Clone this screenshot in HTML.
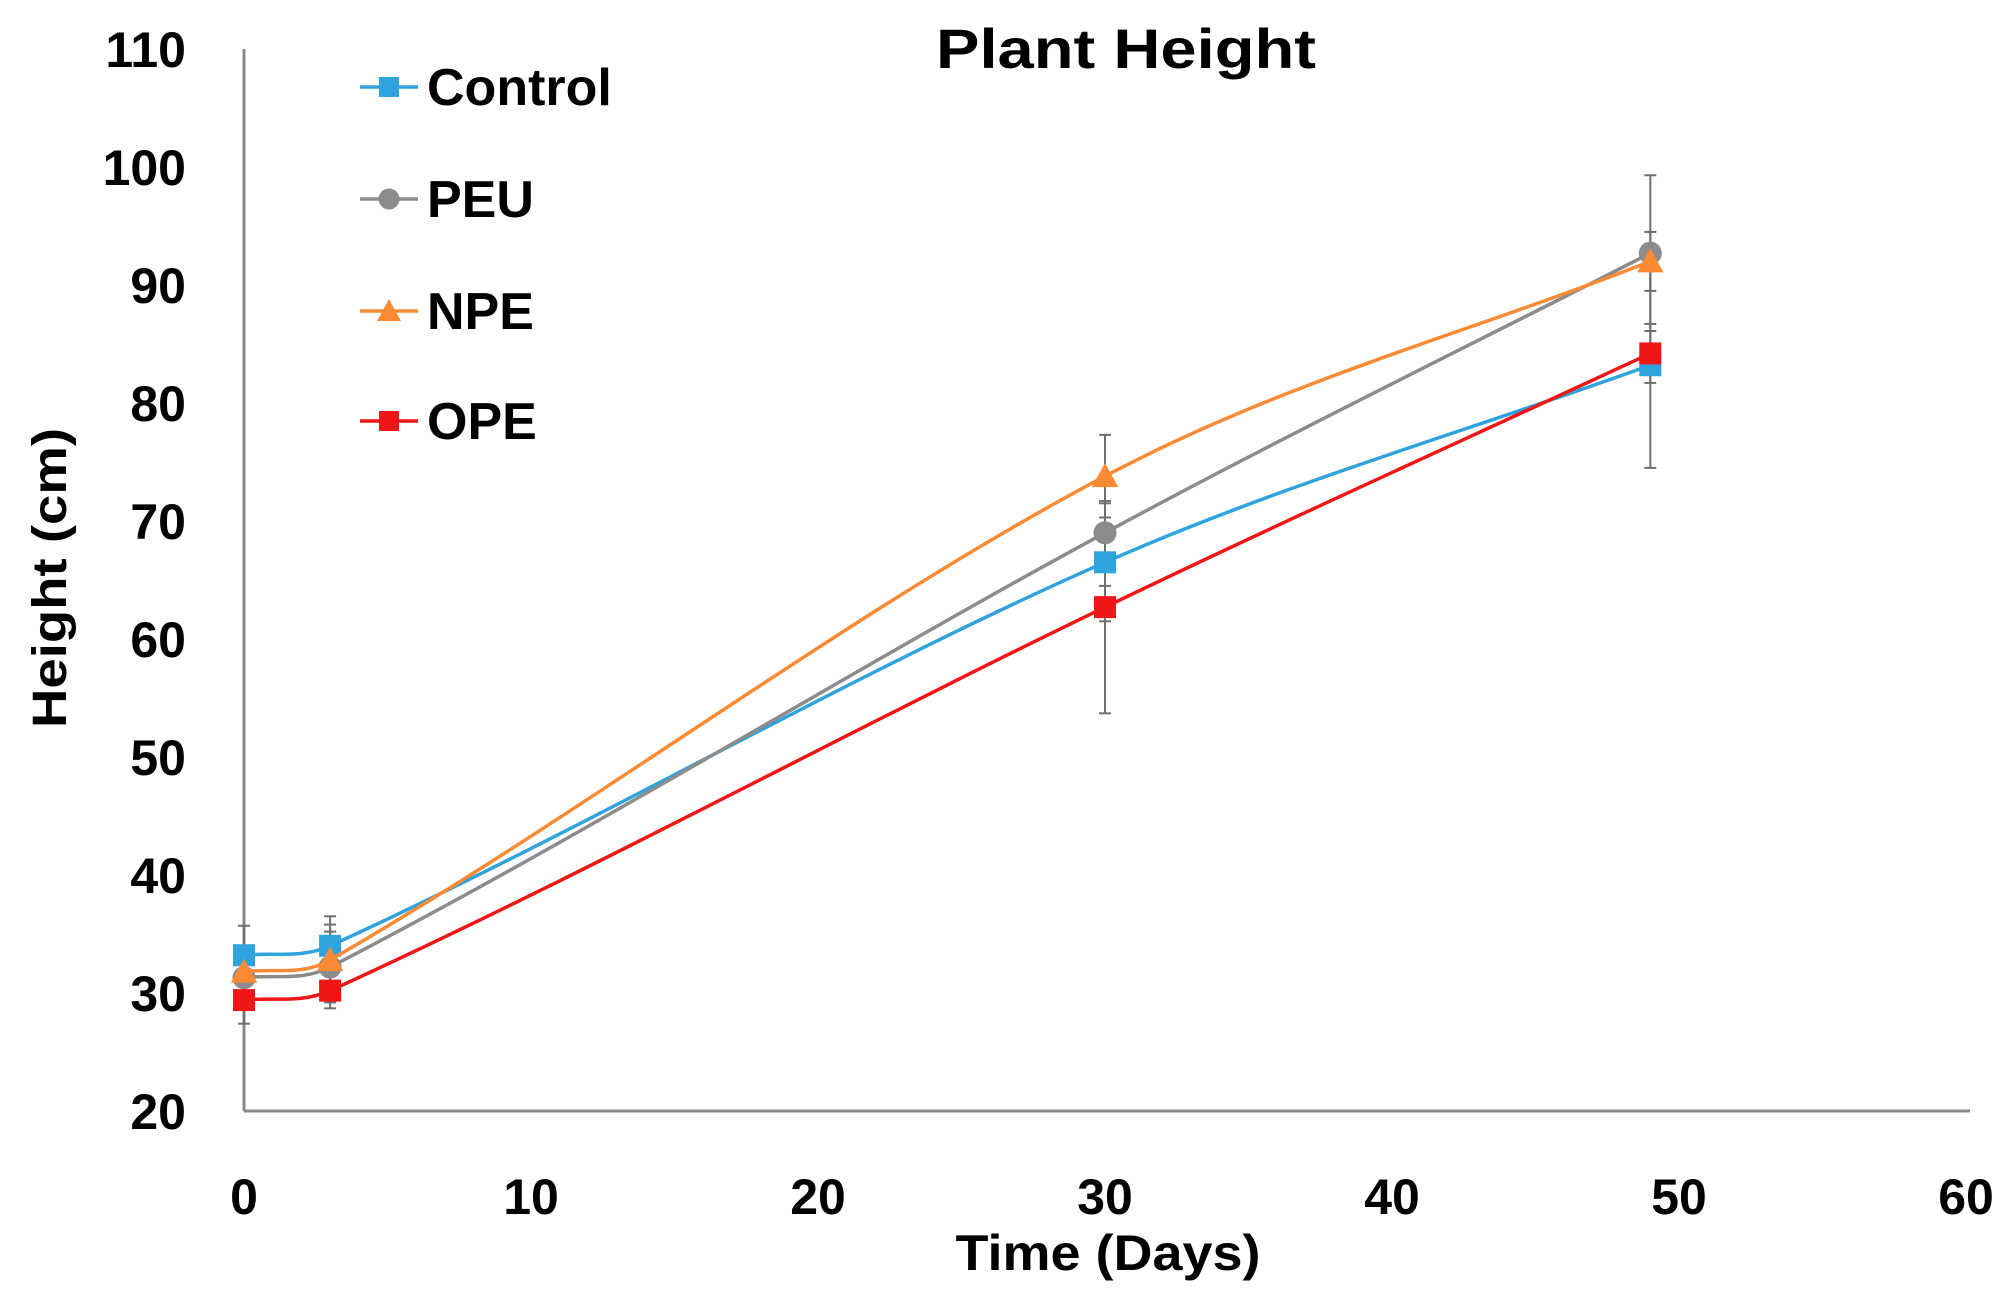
<!DOCTYPE html>
<html><head><meta charset="utf-8"><style>
html,body{margin:0;padding:0;background:#fff}
svg{display:block;font-family:"Liberation Sans",sans-serif;font-weight:bold}
</style></head><body>
<svg id="chart" width="2015" height="1310">
<text x="1126" y="68" font-size="56" text-anchor="middle" textLength="380" lengthAdjust="spacingAndGlyphs">Plant Height</text>
<g id="axes"></g>
<g id="series"></g>
<g id="legend"></g>
<text x="1108" y="1270" font-size="50" text-anchor="middle" textLength="305" lengthAdjust="spacingAndGlyphs">Time (Days)</text>
<text transform="translate(66,578) rotate(-90)" font-size="48" text-anchor="middle" textLength="300" lengthAdjust="spacingAndGlyphs">Height (cm)</text>
</svg>
<script>
const days = [0, 3, 30, 49];
const controlVals = [33.2, 34.0, 66.5, 83.2];
const peuVals = [31.3, 32.2, 69.0, 92.7];
const npeVals = [31.8, 32.8, 73.8, 92.0];
const opeVals = [29.4, 30.2, 62.7, 84.2];
const controlErr = [2.5, 2.5, 5.0, 8.7];
const peuErr = [2.5, 3.0, 4.5, 6.6];
const npeErr = [2.0, 3.0, 3.5, 2.5];
const opeErr = [2.0, 1.5, 9.0, 2.5];
const xTicks = [0, 10, 20, 30, 40, 50, 60];
const yTicks = [20, 30, 40, 50, 60, 70, 80, 90, 100, 110];
const seriesNames = ["Control", "PEU", "NPE", "OPE"];

const NS = "http://www.w3.org/2000/svg";
const X0 = 244, X1 = 1966, Y0 = 1111, Y1 = 49;
const xs = d => X0 + (d - 0) / 60 * (X1 - X0);
const ys = v => Y0 - (v - 20) / 90 * (Y0 - Y1);
function mk(tag, attrs, parent) {
  const e = document.createElementNS(NS, tag);
  for (const k in attrs) e.setAttribute(k, attrs[k]);
  parent.appendChild(e);
  return e;
}
const axes = document.getElementById('axes');
let l = mk('line', {x1: X0, y1: Y1, x2: X0, y2: Y0, stroke: '#888', 'stroke-width': 3}, axes);


l = mk('line', {x1: X0, y1: Y0, x2: 1970, y2: Y0, stroke: '#888', 'stroke-width': 3}, axes);


yTicks.forEach(v => {
  const t = mk('text', {x: 186, y: ys(v) + 18, 'font-size': 50, 'text-anchor': 'end'}, axes);
  t.textContent = v;
  
  
});
xTicks.forEach(v => {
  const t = mk('text', {x: xs(v), y: 1214, 'font-size': 50, 'text-anchor': 'middle'}, axes);
  t.textContent = v;
  
  
});

const colors = ['#2fa3dd', '#8c8c8c', '#fb8a34', '#f01616'];
const vals = [controlVals, peuVals, npeVals, opeVals];
const errs = [controlErr, peuErr, npeErr, opeErr];
const shapes = ['square', 'circle', 'triangle', 'square'];
const sg = document.getElementById('series');
function marker(shape, x, y, c, parent, s) {
  let m;
  if (shape === 'square') m = mk('rect', {x: x - s, y: y - s, width: 2 * s, height: 2 * s, fill: c}, parent);
  else if (shape === 'circle') m = mk('circle', {cx: x, cy: y, r: s * 1.05, fill: c}, parent);
  else m = mk('polygon', {points: `${x},${y - s * 1.2} ${x - s * 1.2},${y + s} ${x + s * 1.2},${y + s}`, fill: c}, parent);
  return m;
}
vals.forEach((vs, i) => {
  vs.forEach((v, j) => {
    const x = xs(days[j]), yt = ys(v + errs[i][j]), yb = ys(v - errs[i][j]);
    const g = mk('g', {stroke: '#6f6f6f', 'stroke-width': 2}, sg);
    
    
    mk('line', {x1: x, y1: yt, x2: x, y2: yb}, g);
    mk('line', {x1: x - 6, y1: yt, x2: x + 6, y2: yt}, g);
    mk('line', {x1: x - 6, y1: yb, x2: x + 6, y2: yb}, g);
  });
});
vals.forEach((vs, i) => {
  const p = vs.map((v, j) => [xs(days[j]), ys(v)]);
  const n = p.length;
  const slope = (a, b) => (p[b][1] - p[a][1]) / (p[b][0] - p[a][0]);
  const m = p.map((_, k) => {
    if (k === 0) return slope(0, 1);
    if (k === n - 1) return slope(n - 2, n - 1);
    return slope(k - 1, k + 1);
  });
  let d = `M${p[0][0]},${p[0][1]}`;
  for (let k = 0; k < n - 1; k++) {
    const dx = (p[k + 1][0] - p[k][0]) / 3;
    d += ` C${p[k][0] + dx},${p[k][1] + m[k] * dx} ${p[k + 1][0] - dx},${p[k + 1][1] - m[k + 1] * dx} ${p[k + 1][0]},${p[k + 1][1]}`;
  }
  const path = mk('path', {d: d, fill: 'none', stroke: colors[i], 'stroke-width': 3.5}, sg);
  
  
  p.forEach(pt => {
    const mm = marker(shapes[i], pt[0], pt[1], colors[i], sg, 11);
    
    
  });
});
const lg = document.getElementById('legend');
const legY = [87, 199, 311, 421];
seriesNames.forEach((n, i) => {
  const g = mk('g', {}, lg);
  
  
  mk('line', {x1: 360, y1: legY[i], x2: 418, y2: legY[i], stroke: colors[i], 'stroke-width': 3.5}, g);
  marker(shapes[i], 389, legY[i], colors[i], g, 10);
  const t = mk('text', {x: 427, y: legY[i] + 18, 'font-size': 52}, g);
  t.textContent = n;
});
</script>
</body></html>
